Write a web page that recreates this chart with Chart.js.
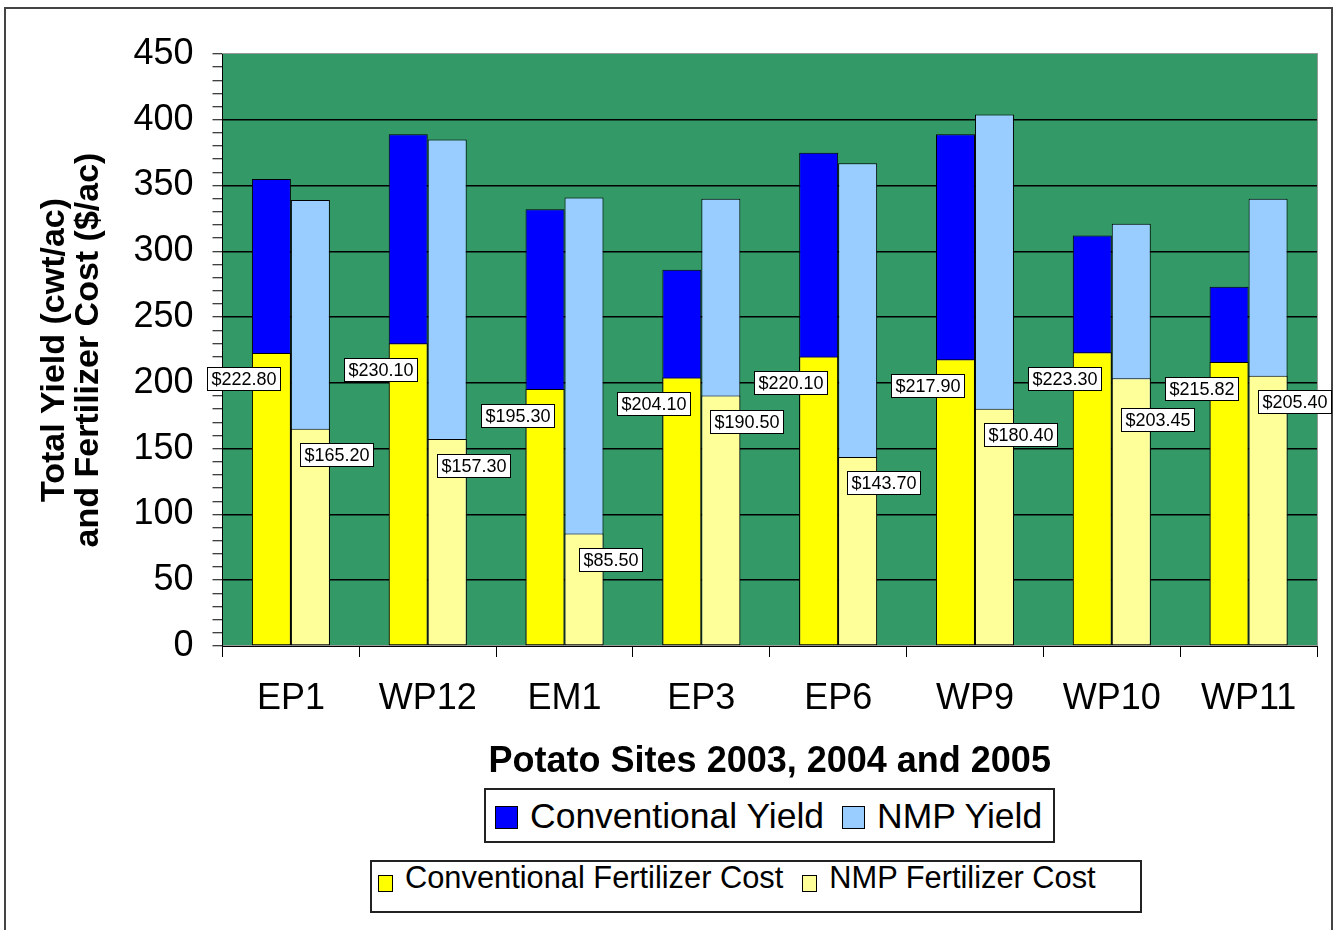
<!DOCTYPE html>
<html>
<head>
<meta charset="utf-8">
<script src="https://cdn.jsdelivr.net/npm/chart.js@4/dist/chart.umd.min.js"></script>
<style>
  body { margin: 0; background: #fff; font-family: "Liberation Sans", Arial, sans-serif; }
  #frame { position: absolute; left: 4px; top: 7px; width: 1329px; height: 1000px; box-sizing: border-box; border: 2px solid #444; }
  #wrap { position: absolute; left: 0; top: 0; width: 1333px; height: 930px; }
  .legend { position: absolute; box-sizing: border-box; border: 2px solid #222; background: #fff; display: flex; align-items: flex-start; color: #000; white-space: nowrap; }
  .sw { display: inline-block; box-sizing: border-box; border: 1px solid #000; }
  #leg1 { left: 484px; top: 788px; width: 571px; height: 55px; padding: 9px 0 0 9px; font-size: 35.5px; line-height: 35px; }
  #leg1 .sw { width: 23px; height: 23px; margin-top: 7px; margin-right: 12px; }
  #leg1 .item { display: flex; align-items: flex-start; margin-right: 18px; }
  #leg2 { left: 370px; top: 860px; width: 772px; height: 53px; padding: 1px 0 0 6px; font-size: 30.8px; line-height: 30px; }
  #leg2 .sw { width: 15px; height: 17px; margin-top: 12px; margin-right: 12px; }
  #leg2 .item { display: flex; align-items: flex-start; margin-right: 19px; }
</style>
</head>
<body>
<div id="frame"></div>
<div id="wrap"><canvas id="mainChart" width="1333" height="930"></canvas></div>
<div class="legend" id="leg1">
  <span class="item"><span class="sw" style="background:#0000FF"></span>Conventional Yield</span>
  <span class="item"><span class="sw" style="background:#99CCFF"></span>NMP Yield</span>
</div>
<div class="legend" id="leg2">
  <span class="item"><span class="sw" style="background:#FFFF00"></span>Conventional Fertilizer Cost</span>
  <span class="item"><span class="sw" style="background:#FFFF99"></span>NMP Fertilizer Cost</span>
</div>
<script>
// sites on the x axis
const sites = ["EP1", "WP12", "EM1", "EP3", "EP6", "WP9", "WP10", "WP11"];

// total yield, cwt/ac
const convYield = [355, 389, 332, 286, 375, 389, 312, 273];
const nmpYield = [339, 385, 341, 340, 367, 404, 321, 340];

// fertilizer cost, $/ac
const convCost = [222.80, 230.10, 195.30, 204.10, 220.10, 217.90, 223.30, 215.82];
const nmpCost = [165.20, 157.30, 85.50, 190.50, 143.70, 180.40, 203.45, 205.40];

Chart.defaults.font.family = '"Liberation Sans", Arial, sans-serif';
Chart.defaults.color = '#000';

// green plot area with grey border
const plotBg = {
    id: 'plotBg',
    beforeDraw(chart) {
        const a = chart.chartArea;
        const ctx = chart.ctx;
        ctx.save();
        ctx.fillStyle = '#339966';
        ctx.fillRect(a.left, a.top, a.right - a.left, a.bottom - a.top);
        ctx.strokeStyle = '#999';
        ctx.lineWidth = 1;
        ctx.strokeRect(a.left, a.top - 0.5, a.right - a.left + 0.5, a.bottom - a.top);
        ctx.restore();
    }
};

function overlaps(a, b) {
    return a.x < b.x + b.w && b.x < a.x + a.w && a.y < b.y + b.h && b.y < a.y + a.h;
}

// boxed $ labels next to the cost bars, conventional to the left, NMP to the right
const costLabels = {
    id: 'costLabels',
    afterDraw(chart) {
        const ctx = chart.ctx;
        ctx.save();
        ctx.font = '18px "Liberation Sans", Arial, sans-serif';
        ctx.textAlign = 'center';
        ctx.textBaseline = 'middle';
        const boxes = [];
        [0, 1].forEach(function (di) {
            const meta = chart.getDatasetMeta(di);
            const vals = chart.data.datasets[di].data;
            meta.data.forEach(function (bar, i) {
                const txt = '$' + vals[i].toFixed(2);
                const w = Math.round(ctx.measureText(txt).width) + 8;
                const h = 23;
                const cx = bar.x + (di === 0 ? -28 : 26);
                const cy = bar.y + 26;
                const b = { x: Math.round(cx - w / 2) + 0.5, y: Math.round(cy - h / 2) + 0.5, w: w, h: h, txt: txt };
                // push down if it runs into a label already placed
                boxes.forEach(function (o) {
                    if (overlaps(b, o)) b.y = o.y + o.h + 8;
                });
                boxes.push(b);
            });
        });
        boxes.forEach(function (b) {
            ctx.fillStyle = '#fff';
            ctx.fillRect(b.x, b.y, b.w, b.h);
            ctx.strokeStyle = '#000';
            ctx.lineWidth = 1;
            ctx.strokeRect(b.x, b.y, b.w, b.h);
            ctx.fillStyle = '#000';
            ctx.fillText(b.txt, b.x + b.w / 2, b.y + b.h / 2 + 1);
        });
        ctx.restore();
    }
};

// same stack name = same slot; y is not stacked so the cost bar sits over the yield bar
function barSet(label, data, color, slot, order) {
    return {
        label: label,
        data: data,
        backgroundColor: color,
        borderColor: '#000',
        borderWidth: 1,
        borderSkipped: false,
        stack: slot,
        order: order,
        categoryPercentage: 0.57,
        barPercentage: 1.0
    };
}

new Chart(document.getElementById('mainChart'), {
    type: 'bar',
    data: {
        labels: sites,
        datasets: [
            barSet('Conventional Fertilizer Cost', convCost, '#FFFF00', 'conv', 1),
            barSet('NMP Fertilizer Cost', nmpCost, '#FFFF99', 'nmp', 1),
            barSet('Conventional Yield', convYield, '#0000FF', 'conv', 2),
            barSet('NMP Yield', nmpYield, '#99CCFF', 'nmp', 2)
        ]
    },
    options: {
        responsive: false,
        animation: false,
        layout: { padding: { top: 54, right: 16, left: 0, bottom: 0 } },
        plugins: {
            legend: { display: false },
            tooltip: { enabled: false }
        },
        scales: {
            x: {
                type: 'category',
                offset: true,
                grid: { drawOnChartArea: false, drawTicks: true, tickLength: 11, color: '#000', offset: true },
                border: { color: '#000', width: 1 },
                ticks: { font: { size: 36 }, padding: 20, color: '#000', maxRotation: 0 },
                title: {
                    display: true,
                    text: 'Potato Sites 2003, 2004 and 2005',
                    font: { size: 36, weight: 'bold' },
                    color: '#000',
                    padding: { top: 0, bottom: 146 }
                },
                afterFit(scale) { scale.height = 284; }
            },
            y: {
                min: 0,
                max: 450,
                stacked: false,
                ticks: {
                    stepSize: 10,
                    autoSkip: false,
                    padding: 19,
                    font: { size: 36 },
                    color: '#000',
                    callback: function (v) { return v % 50 === 0 ? v : ''; }
                },
                grid: {
                    drawTicks: true,
                    tickLength: 10,
                    tickColor: '#000',
                    color: function (c) {
                        const v = c.tick.value;
                        return (v % 50 === 0 && v > 0 && v < 450) ? '#000' : 'rgba(0,0,0,0)';
                    },
                    lineWidth: 1.5,
                    tickWidth: 1
                },
                border: { color: '#000', width: 1 },
                title: {
                    display: true,
                    text: ['Total Yield (cwt/ac)', 'and Fertilizer Cost ($/ac)'],
                    font: { size: 34, weight: 'bold', lineHeight: 1.0 },
                    color: '#000',
                    padding: { top: 38, bottom: 0 }
                },
                afterFit(scale) { scale.width = 222.5; }
            }
        }
    },
    plugins: [plotBg, costLabels]
});
</script>
</body>
</html>
